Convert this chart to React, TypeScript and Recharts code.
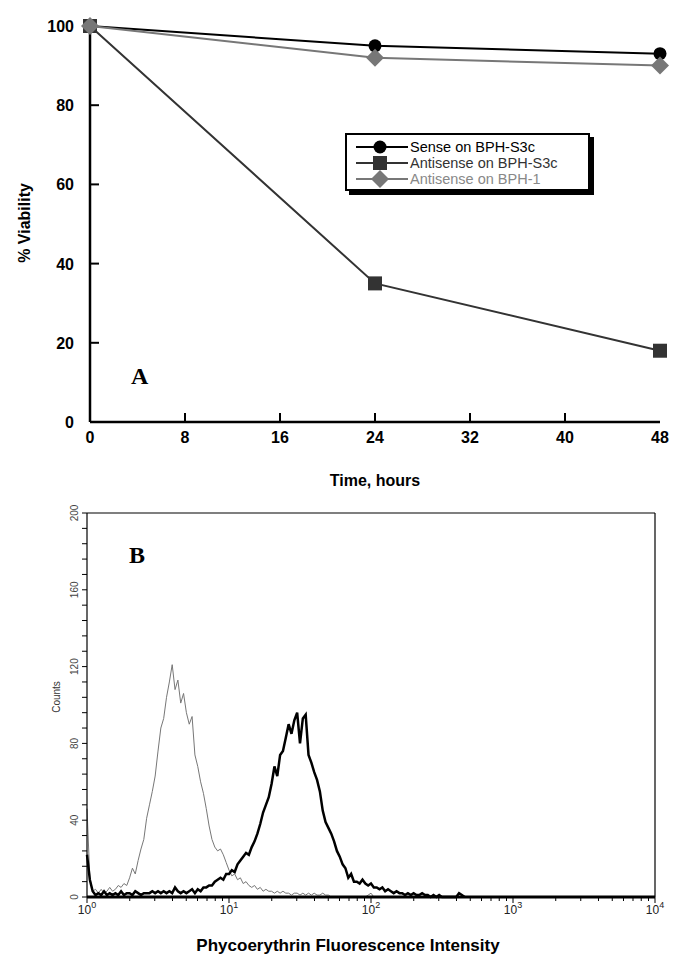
import React from 'react';
import { LineChart, Line, XAxis, YAxis, Legend, ReferenceLine, Customized } from 'recharts';

// ---- Panel A: viability over time ----
const hours = [0, 24, 48];
const senseS3c = [100, 95, 93];
const antisenseS3c = [100, 35, 18];
const antisenseBph1 = [100, 92, 90];
const seriesLabels = ['Sense on BPH-S3c', 'Antisense on BPH-S3c', 'Antisense on BPH-1'];
const hourTicks = [0, 8, 16, 24, 32, 40, 48];
const viabilityTicks = [0, 20, 40, 60, 80, 100];

// ---- Panel B: flow cytometry histogram, 50 bins per decade from 10^0 ----
const binsPerDecade = 50;
const controlCounts = [
  46, 10, 3, 4, 2, 4, 2, 3, 5, 3,
  4, 6, 5, 7, 6, 10, 15, 12, 19, 25,
  30, 41, 48, 55, 63, 76, 88, 93, 104, 112,
  121, 108, 113, 101, 106, 96, 90, 94, 74, 68,
  60, 54, 46, 37, 30, 26, 24, 25, 22, 18,
  14, 11, 12, 9, 10, 7, 8, 6, 5, 6,
  4, 5, 3, 4, 3, 3, 2, 3, 2, 3,
  2, 2, 1, 2, 2, 1, 2, 1, 2, 1,
  2, 1, 1, 2, 1, 1, 0, 0, 0, 0,
  0, 0, 0, 0, 0, 0, 0, 0, 0, 1,
  2, 0,
];
const stainedCounts = [
  22, 9, 3, 1, 2, 1, 3, 1, 2, 1,
  2, 1, 3, 1, 2, 2, 1, 3, 2, 1,
  2, 2, 2, 3, 2, 3, 2, 3, 2, 3,
  2, 5, 3, 2, 3, 2, 3, 4, 2, 4,
  3, 5, 5, 6, 6, 8, 9, 10, 9, 12,
  12, 14, 13, 17, 19, 21, 23, 22, 26, 29,
  33, 38, 44, 48, 52, 59, 68, 63, 74, 76,
  83, 90, 85, 92, 96, 80, 93, 95, 74, 70,
  65, 61, 55, 45, 39, 36, 33, 29, 24, 21,
  17, 15, 10, 12, 8, 8, 7, 9, 7, 6,
  7, 5, 5, 4, 5, 3, 4, 3, 2, 3,
  2, 2, 1, 2, 1, 2, 1, 1, 2, 1,
  1, 0, 1, 0, 1, 0, 0, 0, 0, 0,
  0, 2, 1, 0,
];
const decades = [0, 1, 2, 3, 4];
const countTicks = [0, 8, 16, 24, 32, 40, 48, 56, 64, 72, 80, 88, 96, 104, 112, 120, 128, 136, 144, 152, 160, 168, 176, 184, 192, 200];

const sans = "'Liberation Sans', Arial, Helvetica, sans-serif";
const serif = "'Liberation Serif', 'Times New Roman', serif";

const panelA = hours.map((t, i) => ({
  t,
  sense: senseS3c[i],
  antiS3c: antisenseS3c[i],
  antiB1: antisenseBph1[i],
}));

const nBins = Math.max(controlCounts.length, stainedCounts.length);
const panelB = Array.from({ length: nBins }, (_, i) => ({
  bin: i,
  control: i < controlCounts.length ? controlCounts[i] : null,
  stained: i < stainedCounts.length ? stainedCounts[i] : null,
}));

// major + minor log ticks in bin units
const intensityTicks: number[] = [];
decades.forEach((d) => {
  intensityTicks.push(d * binsPerDecade);
  if (d < 4) {
    for (let k = 2; k <= 9; k++) intensityTicks.push((d + Math.log10(k)) * binsPerDecade);
  }
});

type MarkerKind = 'circle' | 'square' | 'diamond';

function Marker({ kind, cx, cy, color }: { kind: MarkerKind; cx: number; cy: number; color: string }) {
  if (kind === 'circle') return <circle cx={cx} cy={cy} r={6.5} fill={color} />;
  if (kind === 'square') return <rect x={cx - 7} y={cy - 7} width={14} height={14} fill={color} />;
  return <polygon points={`${cx},${cy - 9} ${cx + 9},${cy} ${cx},${cy + 9} ${cx - 9},${cy}`} fill={color} />;
}

const seriesStyle: { key: string; kind: MarkerKind; color: string; text: string }[] = [
  { key: 'sense', kind: 'circle', color: '#000', text: '#000' },
  { key: 'antiS3c', kind: 'square', color: '#333', text: '#333' },
  { key: 'antiB1', kind: 'diamond', color: '#777', text: '#888' },
];

function LegendBox() {
  return (
    <div
      style={{
        position: 'relative',
        width: 245,
        height: 58,
        boxSizing: 'border-box',
        border: '2px solid #000',
        boxShadow: '4px 4px 0 #000',
        background: '#fff',
      }}
    >
      {seriesStyle.map((s, i) => (
        <div key={s.key} style={{ position: 'absolute', left: 9, top: 4 + i * 16, height: 16, display: 'flex', alignItems: 'center' }}>
          <svg width={54} height={16} style={{ overflow: 'visible' }}>
            <line x1={0} x2={52} y1={8} y2={8} stroke={s.color} strokeWidth={2} />
            <Marker kind={s.kind} cx={24} cy={8} color={s.color} />
          </svg>
          <span style={{ fontFamily: sans, fontSize: 14.5, lineHeight: '16px', color: s.text, whiteSpace: 'nowrap' }}>
            {seriesLabels[i]}
          </span>
        </div>
      ))}
    </div>
  );
}

const boldTick = { fontFamily: sans, fontWeight: 700, fontSize: 16, fill: '#000' };

function HourTick({ x, y, payload }: any) {
  const axisY = y - 9;
  const v = payload.value;
  return (
    <g>
      {v > 0 && v < 48 && <line x1={x} x2={x} y1={axisY} y2={axisY - 9} stroke="#000" strokeWidth={2} />}
      <text x={x} y={y + 12} textAnchor="middle" {...boldTick}>{v}</text>
    </g>
  );
}

function ViabilityTick({ x, y, payload }: any) {
  const axisX = x + 16;
  const v = payload.value;
  return (
    <g>
      {v > 0 && v < 100 && <line x1={axisX} x2={axisX + 9} y1={y} y2={y} stroke="#000" strokeWidth={2} />}
      <text x={x} y={y + 6} textAnchor="end" {...boldTick}>{v}</text>
    </g>
  );
}

function PanelAText() {
  return (
    <g>
      <text x={30} y={223} transform="rotate(-90 30 223)" textAnchor="middle" fontFamily={sans} fontWeight={700} fontSize={16}>
        % Viability
      </text>
      <text x={375} y={486} textAnchor="middle" fontFamily={sans} fontWeight={700} fontSize={16}>
        Time, hours
      </text>
      <text x={131} y={384} fontFamily={serif} fontWeight={700} fontSize={24}>A</text>
    </g>
  );
}

function CountTick({ x, y, payload }: any) {
  if (payload.value % 40 !== 0) return <g />;
  return (
    <text x={x} y={y} transform={`rotate(-90 ${x} ${y})`} textAnchor="middle" fontFamily={sans} fontSize={10} fill="#444">
      {payload.value}
    </text>
  );
}

function IntensityTick({ x, y, payload }: any) {
  const decade = payload.value / binsPerDecade;
  const major = Math.abs(decade - Math.round(decade)) < 1e-6;
  return (
    <g>
      <line x1={x} x2={x} y1={y} y2={y + (major ? 6 : 4)} stroke="#000" strokeWidth={1} />
      {major && (
        <text x={x} y={y + 17} textAnchor="middle" fontFamily={sans} fontSize={12} fill="#222">
          10<tspan dy={-6} fontSize={9}>{Math.round(decade)}</tspan>
        </text>
      )}
    </g>
  );
}

function PanelBText() {
  return (
    <g>
      <text x={60} y={197} transform="rotate(-90 60 197)" textAnchor="middle" fontFamily={sans} fontSize={10} fill="#333">
        Counts
      </text>
      <text x={348} y={451} textAnchor="middle" fontFamily={sans} fontWeight={700} fontSize={17}>
        Phycoerythrin Fluorescence Intensity
      </text>
      <text x={129} y={63} fontFamily={serif} fontWeight={700} fontSize={24}>B</text>
    </g>
  );
}

const empty = () => <g />;

export default function App() {
  return (
    <div style={{ position: 'absolute', left: 0, top: 0, width: 685, height: 963, background: '#fff' }}>
      <div style={{ position: 'absolute', left: 0, top: 0 }}>
        <LineChart width={685} height={500} data={panelA} margin={{ top: 26, right: 25, bottom: 0, left: 0 }}>
          <XAxis
            dataKey="t"
            type="number"
            domain={[0, 48]}
            ticks={hourTicks}
            interval={0}
            height={78}
            tickSize={0}
            tickMargin={9}
            tickLine={false}
            axisLine={{ stroke: '#000', strokeWidth: 2.5 }}
            tick={HourTick}
          />
          <XAxis
            xAxisId="top"
            orientation="top"
            dataKey="t"
            type="number"
            domain={[0, 48]}
            ticks={[8, 16, 24, 32, 40]}
            interval={0}
            height={0}
            mirror
            tickSize={9}
            tickLine={{ stroke: '#000', strokeWidth: 2 }}
            axisLine={{ stroke: '#000', strokeWidth: 2.5 }}
            tick={empty}
          />
          <YAxis
            type="number"
            domain={[0, 100]}
            ticks={viabilityTicks}
            interval={0}
            width={90}
            tickSize={0}
            tickMargin={16}
            tickLine={false}
            axisLine={{ stroke: '#000', strokeWidth: 2.5 }}
            tick={ViabilityTick}
          />
          <YAxis
            yAxisId="right"
            orientation="right"
            type="number"
            domain={[0, 100]}
            ticks={[20, 40, 60, 80]}
            interval={0}
            width={0}
            mirror
            tickSize={9}
            tickLine={{ stroke: '#000', strokeWidth: 2 }}
            axisLine={{ stroke: '#000', strokeWidth: 2.5 }}
            tick={empty}
          />
          <Legend
            layout="horizontal"
            verticalAlign="middle"
            align="center"
            wrapperStyle={{ left: 345, top: 133, width: 249, height: 62 }}
            content={() => <LegendBox />}
          />
          {seriesStyle.map((s, i) => (
            <Line
              key={s.key}
              dataKey={s.key}
              name={seriesLabels[i]}
              stroke={s.color}
              strokeWidth={2}
              isAnimationActive={false}
              dot={(p: any) => <Marker key={`${s.key}-${p.index}`} kind={s.kind} cx={p.cx} cy={p.cy} color={s.color} />}
              activeDot={false}
            />
          ))}
          <Customized component={<PanelAText />} />
        </LineChart>
      </div>
      <div style={{ position: 'absolute', left: 0, top: 500 }}>
        <LineChart width={685} height={463} data={panelB} margin={{ top: 13, right: 30, bottom: 0, left: 0 }}>
          <XAxis
            dataKey="bin"
            type="number"
            domain={[0, 4 * binsPerDecade]}
            ticks={intensityTicks}
            interval={0}
            height={66}
            tickSize={0}
            tickMargin={0}
            tickLine={false}
            axisLine={{ stroke: '#000', strokeWidth: 3 }}
            tick={IntensityTick}
          />
          <YAxis
            type="number"
            domain={[0, 200]}
            ticks={countTicks}
            interval={0}
            width={87}
            tickSize={5}
            tickMargin={4}
            tickLine={{ stroke: '#000', strokeWidth: 1 }}
            axisLine={{ stroke: '#000', strokeWidth: 1.2 }}
            tick={CountTick}
          />
          <ReferenceLine y={200} stroke="#000" strokeWidth={1.2} />
          <ReferenceLine x={4 * binsPerDecade} stroke="#000" strokeWidth={1.2} />
          <Line dataKey="control" stroke="#777" strokeWidth={1} dot={false} activeDot={false} isAnimationActive={false} connectNulls={false} />
          <Line dataKey="stained" stroke="#000" strokeWidth={2.5} dot={false} activeDot={false} isAnimationActive={false} connectNulls={false} />
          <Customized component={<PanelBText />} />
        </LineChart>
      </div>
    </div>
  );
}
